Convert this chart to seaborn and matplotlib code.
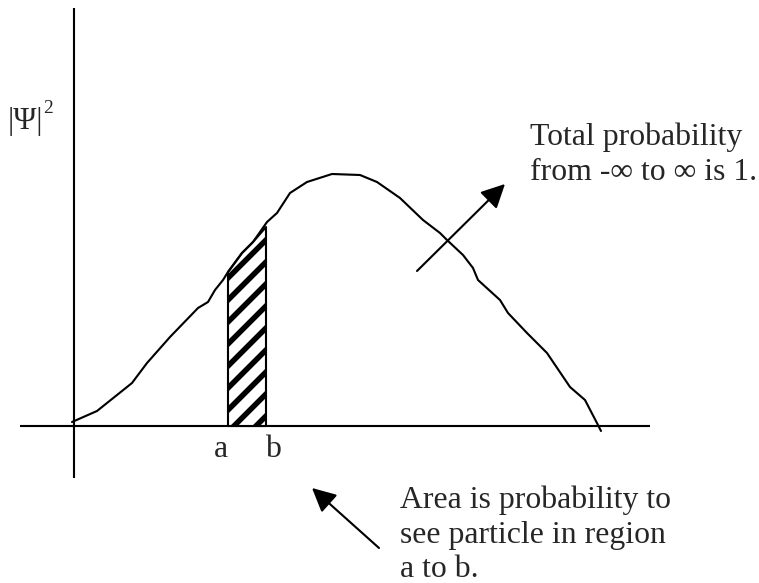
import matplotlib
matplotlib.use("Agg")
import matplotlib.pyplot as plt
import seaborn as sns
import pandas as pd

# Probability density |Psi|^2 sketched along x (origin where the axes cross)
curve_x = [-2, 23, 58, 73, 96, 124, 134, 141, 149, 154, 168, 179, 193, 203, 216,
           233, 258, 286, 303, 326, 349, 366, 373, 389, 399, 404, 426, 434, 453,
           473, 496, 511, 524, 527]
curve_y = [4, 15, 43, 63, 89, 118, 124, 136, 146, 154, 173, 184, 204, 213, 233,
           244, 252, 251, 244, 228, 206, 193, 186, 171, 158, 146, 126, 113, 93,
           73, 39, 26, 1, -5]

# Shaded strip between a and b
strip_x = [154, 168, 179, 192]
strip_top = [154, 173, 184, 199]
tick_labels = ["a", "b"]
tick_pos = [147, 200]

note_total = ["Total probability", "from -\u221e to \u221e is 1."]
note_area = ["Area is probability to", "see particle in region", "a to b."]

DPI = 132
sns.set_theme(style="white")
plt.rcParams["font.family"] = ["Liberation Serif", "DejaVu Serif"]
plt.rcParams["hatch.linewidth"] = 3.0
plt.rcParams["hatch.color"] = "black"

fig = plt.figure(figsize=(759 / DPI, 583 / DPI), dpi=DPI)
ax = fig.add_axes([0, 0, 1, 1])

lw = 1.15
# axes of the sketch
ax.plot([-54, 576], [0, 0], color="black", lw=lw, solid_capstyle="butt")
ax.plot([0, 0], [-52, 418], color="black", lw=lw, solid_capstyle="butt")

# hatched area a..b
ax.fill_between(strip_x, 0, strip_top, facecolor="white", edgecolor="black",
                hatch="//", linewidth=lw, zorder=2)

df = pd.DataFrame({"x": curve_x, "p": curve_y})
sns.lineplot(data=df, x="x", y="p", sort=False, estimator=None,
             color="black", lw=lw, ax=ax, zorder=3)
ax.set_xlim(-74, 685)
ax.set_ylim(-157, 426)
ax.axis("off")

fs = 17.3
ax.text(-66, 297, "|\u03a8|", fontsize=17, ha="left", va="baseline")
ax.text(-31, 313, "2", fontsize=10.5, ha="left", va="baseline")

for lbl, xp in zip(tick_labels, tick_pos):
    ax.text(xp, -31, lbl, fontsize=fs, ha="center", va="baseline")

for i, line in enumerate(note_total):
    ax.text(456, 281 - 35 * i, line, fontsize=fs, ha="left", va="baseline")
for i, line in enumerate(note_area):
    ax.text(326, -82 - 34.5 * i, line, fontsize=fs, ha="left", va="baseline")

arrow_style = "-|>,head_length=1.0,head_width=0.5"
ax.annotate("", xy=(431, 242), xytext=(343, 155),
            arrowprops=dict(arrowstyle=arrow_style, color="black", lw=lw,
                            mutation_scale=11, shrinkA=0, shrinkB=0))
ax.annotate("", xy=(238, -62), xytext=(305, -122),
            arrowprops=dict(arrowstyle=arrow_style, color="black", lw=lw,
                            mutation_scale=11, shrinkA=0, shrinkB=0))

fig.savefig("out.png", dpi=DPI, facecolor="white")
